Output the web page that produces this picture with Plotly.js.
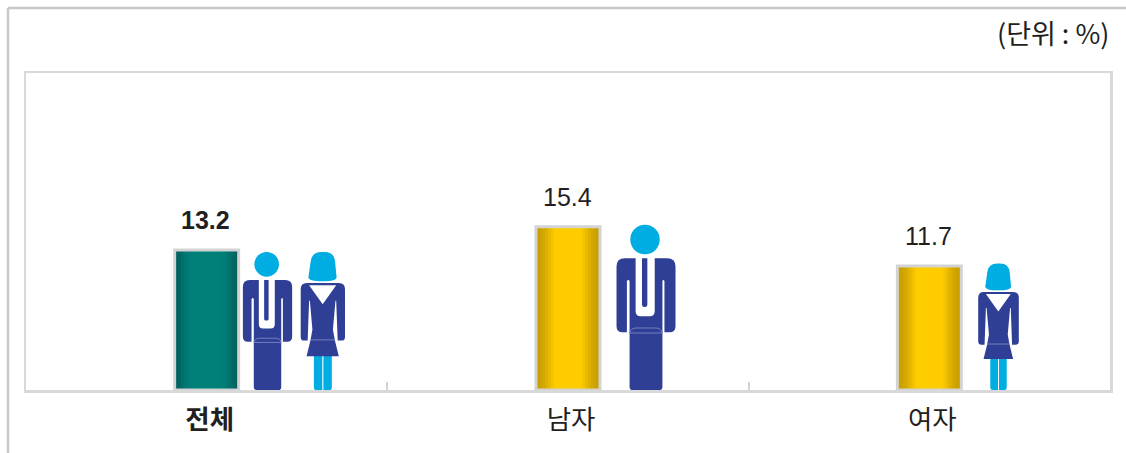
<!DOCTYPE html>
<html><head><meta charset="utf-8">
<script src="https://cdn.plot.ly/plotly-3.0.1.min.js"></script>
<style>html,body{margin:0;padding:0;background:#fff}#c{width:1126px;height:453px}</style>
</head><body><div id="c"></div>
<script>
const categories = ['전체', '남자', '여자'];
const values = [13.2, 15.4, 11.7];
const unitLabel = '(단위 : %)';

const W = 1126, H = 453;
const m = {l: 26, r: 16, t: 73, b: 63};
const plotW = W - m.l - m.r, plotH = H - m.t - m.b;
const pxX = plotW / categories.length;  // px per category
const yMax = 29.9;
const pxY = plotH / yMax;               // px per unit of value
const pos = categories.map((_, i) => i);

// Horizontal shading of the bars, edge to centre: each band is a narrower bar on the same value.
const bandWidths = [64, 58, 52, 46, 40, 34, 28];
const tealBands = ['#00605c', '#006662', '#006e69', '#007670', '#007c76', '#007f78', '#008079'];
const goldBands = ['#c9a000', '#cca200', '#d2a800', '#dcb000', '#e8b900', '#f5c400', '#ffcc00'];
const bandTraces = bandWidths.map((w, b) => ({
  type: 'bar', x: pos, y: values, width: pos.map(() => w / pxX),
  marker: {color: [tealBands[b], goldBands[b], goldBands[b]], line: {width: 0}},
  hoverinfo: 'skip', showlegend: false
}));
const outlineTrace = {
  type: 'bar', x: pos, y: values, width: pos.map(() => 64 / pxX),
  marker: {color: 'rgba(0,0,0,0)', line: {color: '#d3d3d3', width: 3}},
  hoverinfo: 'skip', showlegend: false
};

// Pictogram outlines, in a local drawing space; every figure is scaled from its value.
const navy = '#2f3f96', cyan = '#00ade2', seam = '#7480bd';
const MAN = {
  cx: 376, top: 137, bottom: 630,
  parts: [
    {fill: navy, d: [['M',291,440],['L',291,262],['Q',291,237,316,237],['L',348,237],['L',348,395],['Q',348,410,363,410],['L',390,410],['Q',405,410,405,395],['L',405,237],['L',442,237],['Q',467,237,467,262],['L',467,440],['Q',467,458,449,458],['L',434,458],['L',434,305],['Q',431,298,428,305],['L',428,620],['Q',428,630,418,630],['L',340,630],['Q',330,630,330,620],['L',330,305],['Q',326,298,322,305],['L',322,458],['L',309,458],['Q',291,458,291,440],['Z']]},
    {fill: navy, d: [['M',367,237],['L',383,237],['L',383,376],['Q',383,382,377,382],['L',373,382],['Q',367,382,367,376],['Z']]},
    {stroke: seam, d: [['M',330,460],['Q',334,445,350,445],['L',408,445],['Q',424,445,428,460],['M',330,460],['L',428,460]]}
  ],
  circle: {x: 376, y: 181, r: 44, fill: cyan}
};
const WOMAN = {
  cx: 355, top: 163, bottom: 540,
  parts: [
    {fill: cyan, d: [['M',331,445],['L',354,445],['L',354,540],['L',338,540],['Q',331,540,331,533],['Z']]},
    {fill: cyan, d: [['M',357,445],['L',380,445],['L',380,533],['Q',380,540,373,540],['L',357,540],['Z']]},
    {fill: navy, d: [['M',295,395],['L',295,265],['Q',295,248,312,248],['L',399,248],['Q',416,248,416,265],['L',416,395],['Q',416,405,407,405],['L',396,405],['L',392,296],['L',390,296],['L',383,375],['L',388,403],['L',399,448],['L',311,448],['L',322,403],['L',327,375],['L',320,296],['L',318,296],['L',314,405],['L',304,405],['Q',295,405,295,395],['Z']]},
    {fill: '#ffffff', d: [['M',318,254],['L',392,254],['L',355,306],['Z']]},
    {fill: cyan, d: [['M',316,232],['L',322,190],['Q',325,163,352,163],['L',360,163],['Q',387,163,389,190],['L',393,232],['Q',393,243,355,243],['Q',316,243,316,232],['Z']]},
    {stroke: seam, d: [['M',322,403],['L',388,403]]}
  ]
};

function iconShapes(icon, catIdx, value, offsetPx, scale) {
  const hData = value * scale, span = icon.bottom - icon.top;
  const hPx = hData * pxY;
  const X = x => catIdx + (offsetPx + (x - icon.cx) / span * hPx) / pxX;
  const Y = y => (icon.bottom - y) / span * hData;
  const out = icon.parts.map(p => {
    const path = p.d.map(c => {
      let s = c[0];
      for (let i = 1; i < c.length; i += 2) s += (i > 1 ? ' ' : '') + X(c[i]).toFixed(5) + ',' + Y(c[i + 1]).toFixed(4);
      return s;
    }).join(' ');
    return {type: 'path', path, xref: 'x', yref: 'y', layer: 'between',
      fillcolor: p.fill || 'rgba(0,0,0,0)', line: p.stroke ? {color: p.stroke, width: 1} : {width: 0}};
  });
  if (icon.circle) {
    const c = icon.circle;
    out.push({type: 'circle', xref: 'x', yref: 'y', layer: 'between',
      x0: X(c.x - c.r), x1: X(c.x + c.r), y0: Y(c.y + c.r), y1: Y(c.y - c.r),
      fillcolor: c.fill, line: {width: 0}});
  }
  return out;
}

const frameX = (8 - m.l) / plotW, frameY = 1 + (m.t - 8) / plotH;
const shapes = [
  ...iconShapes(MAN, 0, values[0], 60, 0.986),
  ...iconShapes(WOMAN, 0, values[0], 116, 0.986),
  ...iconShapes(MAN, 1, values[1], 77, 1.012),
  ...iconShapes(WOMAN, 2, values[2], 69, 1.02),
  // outer frame of the figure: left and top rules only
  {type: 'line', xref: 'paper', yref: 'paper', layer: 'above',
   x0: frameX, x1: frameX, y0: -m.b / plotH, y1: frameY,
   line: {color: '#c8c8c8', width: 2.5}},
  {type: 'line', xref: 'paper', yref: 'paper', layer: 'above',
   x0: frameX, x1: (W - m.l) / plotW, y0: frameY, y1: frameY,
   line: {color: '#c8c8c8', width: 2.5}}
];

const ink = '#231f20';
const numFont = 'Liberation Sans, Arial, sans-serif';
const krFont = '"Noto Sans CJK KR", sans-serif';
const annotations = values.map((v, i) => ({
  x: i, y: v, xref: 'x', yref: 'y', text: i === 0 ? '<b>' + v.toFixed(1) + '</b>' : v.toFixed(1),
  showarrow: false, yanchor: 'bottom', xanchor: 'center', yshift: 14, xshift: -1,
  font: {family: numFont, size: 25, color: ink}
}));
annotations.push({
  xref: 'paper', yref: 'paper', x: (1111 - m.l) / plotW, y: 1 + (m.t - 33) / plotH,
  xanchor: 'right', yanchor: 'middle', showarrow: false, text: unitLabel,
  font: {family: krFont, size: 27, color: ink}
});

const layout = {
  width: W, height: H, margin: {l: m.l, r: m.r, t: m.t, b: m.b, pad: 0},
  paper_bgcolor: '#fff', plot_bgcolor: '#fff', showlegend: false,
  barmode: 'overlay', shapes, annotations,
  xaxis: {
    type: 'linear', range: [-0.5, 2.5], tickmode: 'array', tickvals: pos.map(p => p + 3 / pxX),
    ticktext: categories.map((c, i) => i === 0 ? '<b>' + c + '</b>' : c),
    ticks: '', showgrid: false, zeroline: false, fixedrange: true,
    showline: true, mirror: true, linecolor: '#d9d9d9', linewidth: 2.5,
    tickfont: {family: krFont, size: 26.5, color: ink}, ticklabelstandoff: 5,
    minor: {tickmode: 'array', tickvals: [0.5, 1.5], ticks: 'inside', ticklen: 8, tickwidth: 2, tickcolor: '#d3d3d3', showgrid: false}
  },
  yaxis: {
    range: [0, yMax], showticklabels: false, ticks: '', showgrid: false, zeroline: false, fixedrange: true,
    showline: true, mirror: true, linecolor: '#d9d9d9', linewidth: 2.5
  }
};
Plotly.newPlot('c', [...bandTraces, outlineTrace], layout, {displayModeBar: false, staticPlot: true});
</script></body></html>
